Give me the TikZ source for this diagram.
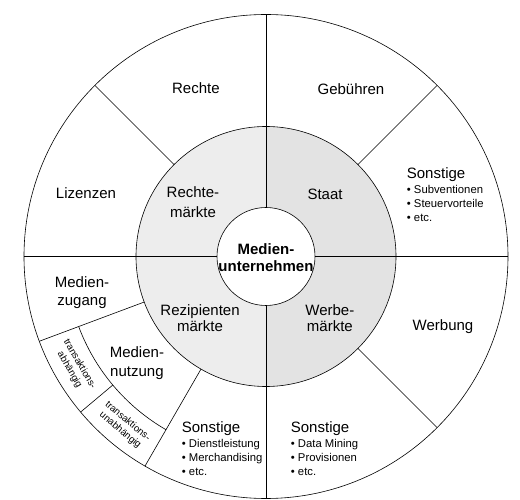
\documentclass[tikz,border=0pt]{standalone}
\usepackage{fontspec}
\setmainfont{Liberation Sans}
\begin{document}
\begin{tikzpicture}[x=1pt,y=1pt,
    every node/.style={align=center,font=\fontsize{15}{18}\selectfont},
    small/.style={font=\fontsize{9.7}{11.5}\selectfont},
    list/.style={align=left,anchor=north west,inner sep=0pt,font=\fontsize{11.3}{14}\selectfont}]
  \useasboundingbox (-266,-243.5) rectangle (254,256.5);
  \fill[black!7] (90:130) arc (90:270:130) -- cycle;
  \fill[black!11] (-90:130) arc (-90:90:130) -- cycle;
  \begin{scope}[line width=0.6pt]
    \draw (0,0) circle (242);
    \draw (0,0) circle (130);
    \draw[fill=white] (0,0) circle (49);
    \draw (0:49) to (0:242);
    \draw (90:49) to (90:242);
    \draw (180:49) to (180:242);
    \draw (270:49) to (270:242);
    \draw (45:130) to (45:242);
    \draw (135:130) to (135:242);
    \draw (-45:130) to (-45:242);
    \draw (200.5:130) to (200.5:242);
    \draw (240:130) to (240:242);
    \draw (200.5:200) arc (200.5:240:200);
    \draw (220:200) to (220:242);
  \end{scope}
  \draw
    (112.6:182.5) node (rechte){Rechte}
    (63.1:187.8) node (gebuehren){Gebühren}
    (160.6:190.9) node (lizenzen){Lizenzen}
    (143.3:91.1) node[font=\fontsize{15}{20}\selectfont] (rmaerkte){Rechte-\\märkte}
    (46.6:86) node (staat){Staat}
    (0,-1) node[font=\fontsize{15}{16.7}\selectfont\bfseries] (medien){Medien-\\unternehmen}
    (191.1:187.5) node (zugang){Medien-\\zugang}
    (223:90.2) node[font=\fontsize{15}{16.5}\selectfont] (rezipienten){Rezipienten\\märkte}
    (316:88.8) node[font=\fontsize{15}{16.5}\selectfont] (werbemaerkte){Werbe-\\märkte}
    (338.3:190.5) node (werbung){Werbung}
    (219.5:167.3) node[font=\fontsize{15}{19.5}\selectfont] (nutzung){Medien-\\nutzung}
    (210:221) node[small,rotate=-60] (abh){transaktions-\\abhängig}
    (230:221) node[small,rotate=-40] (unabh){transaktions-\\unabhängig};
  \draw
    (140.7,89) node[list] (sonst1){{\fontsize{15}{15}\selectfont Sonstige}\\[1pt]
      • Subventionen\\ • Steuervorteile\\ • etc.}
    (-84.3,-165) node[list] (sonst2){{\fontsize{15}{15}\selectfont Sonstige}\\[1pt]
      • Dienstleistung\\ • Merchandising\\ • etc.}
    (24.7,-165) node[list] (sonst3){{\fontsize{15}{15}\selectfont Sonstige}\\[1pt]
      • Data Mining\\ • Provisionen\\ • etc.};
\end{tikzpicture}
\end{document}
